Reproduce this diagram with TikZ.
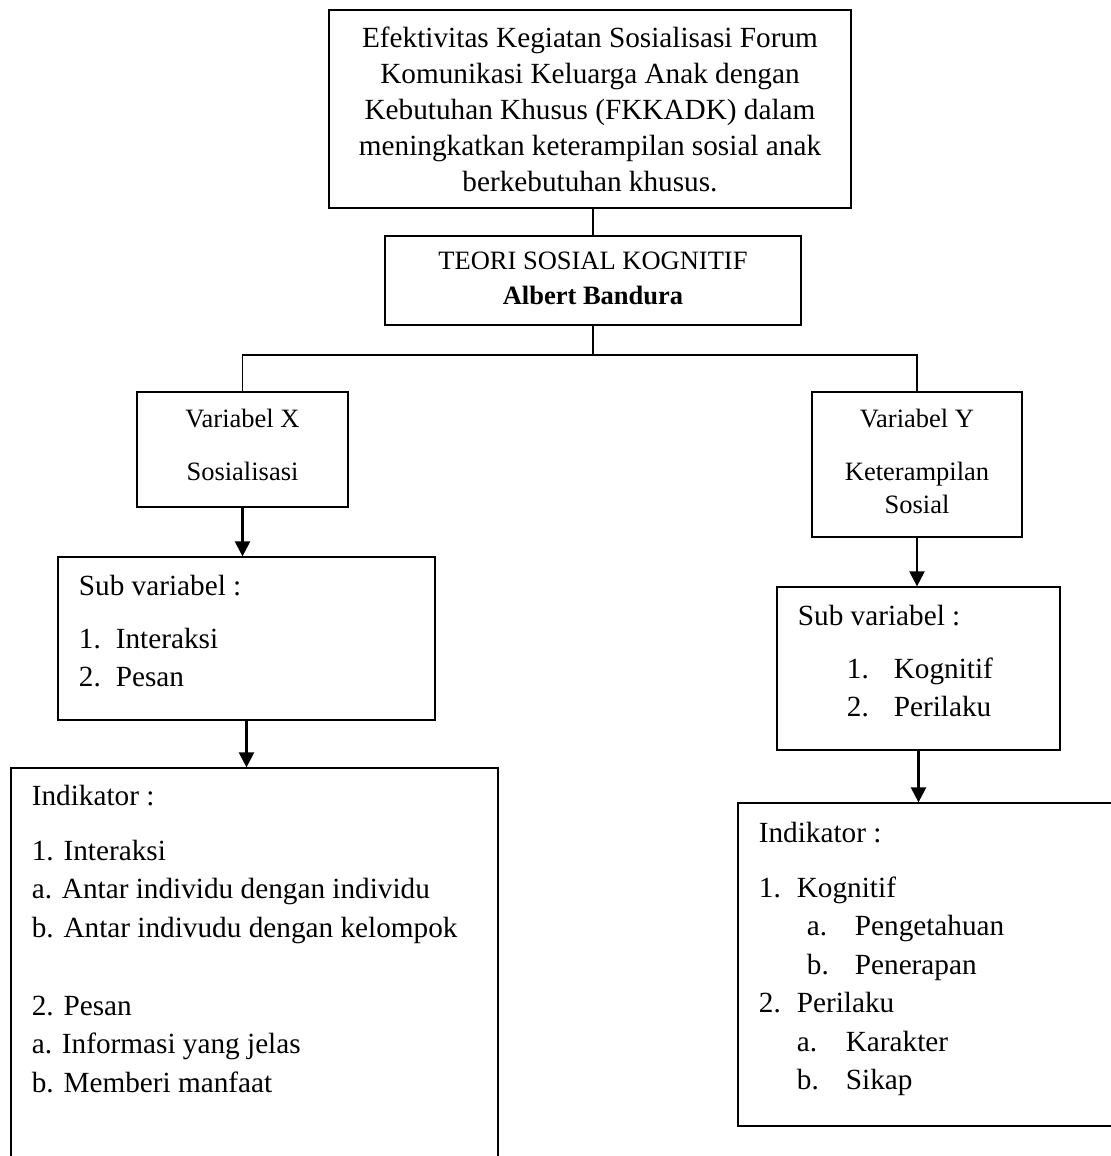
\documentclass[tikz,border=0pt]{standalone}
\usepackage{fontspec}
\setmainfont{Liberation Serif}
\usetikzlibrary{arrows.meta,positioning,fit}
\tikzset{box/.style={draw,line width=.5pt,inner sep=0pt},body/.style={font=\fontsize{11.7}{15.4}\selectfont,align=left,inner sep=0pt},small/.style={font=\fontsize{10.6}{13.2}\selectfont,align=center,inner sep=0pt},flow/.style={-{Triangle[length=6pt,width=6pt]},line width=.9pt},link/.style={line width=.5pt}}

\begin{document}
\begin{tikzpicture}[x=.4pt,y=-.4pt]
  \useasboundingbox (0,0) rectangle (1111,1156);
  \clip (0,0) rectangle (1111,1156);
  % judul dan teori
  \node[box,fit={(329,10) (851,208)}] (judul) {};
  \node[below=6.8pt of judul.north,align=center,inner sep=0pt,font=\fontsize{11.7}{14.4}\selectfont] (judul-isi) {Efektivitas Kegiatan Sosialisasi Forum\\Komunikasi Keluarga Anak dengan\\Kebutuhan Khusus (FKKADK) dalam\\meningkatkan keterampilan sosial anak\\berkebutuhan khusus.};
  \node[box,fit={(385,236) (801,325)}] (teori) {};
  \node[small,font=\fontsize{10.6}{14}\selectfont,below=6.6pt of teori.north] (teori-isi) {TEORI SOSIAL KOGNITIF\\\textbf{Albert Bandura}};
  \coordinate (cabang) at (592,355);
  % variabel
  \node[box,fit={(137,392) (348,507)}] (varx) {};
  \node[small,below=6.8pt of varx.north] (varx-isi) {Variabel X\\[8pt]Sosialisasi};
  \node[box,fit={(812,392) (1022,537)}] (vary) {};
  \node[small,below=6.8pt of vary.north] (vary-isi) {Variabel Y\\[8pt]Keterampilan\\Sosial};
  % sub variabel
  \node[box,fit={(58,557) (435,720)}] (subx) {};
  \node[body,below right=7.2pt and 8.4pt of subx.north west] (subx-isi) {Sub variabel :\\[5.8pt]\makebox[14.8pt][l]{1.}Interaksi\\\makebox[14.8pt][l]{2.}Pesan};
  \node[box,fit={(777,587) (1060,750)}] (suby) {};
  \node[body,below right=7.2pt and 8.4pt of suby.north west] (suby-isi) {Sub variabel :\\[5.8pt]\hspace*{19.6pt}\makebox[18.8pt][l]{1.}Kognitif\\\hspace*{19.6pt}\makebox[18.8pt][l]{2.}Perilaku};
  % indikator
  \node[box,fit={(11,768) (498,1180)}] (indx) {};
  \node[body,below right=6.8pt and 8.4pt of indx.north west] (indx-isi) {Indikator :\\[6.6pt]1. Interaksi\\a. Antar individu dengan individu\\b. Antar indivudu dengan kelompok\\[15.8pt]2. Pesan\\a. Informasi yang jelas\\b. Memberi manfaat};
  \node[box,fit={(738,803) (1130,1126)}] (indy) {};
  \node[body,below right=7.6pt and 8.4pt of indy.north west] (indy-isi) {Indikator :\\[6.6pt]\makebox[15.2pt][l]{1.}Kognitif\\\hspace*{19.2pt}\makebox[19.2pt][l]{a.}Pengetahuan\\\hspace*{19.2pt}\makebox[19.2pt][l]{b.}Penerapan\\\makebox[15.2pt][l]{2.}Perilaku\\\hspace*{15.2pt}\makebox[19.6pt][l]{a.}Karakter\\\hspace*{15.2pt}\makebox[19.6pt][l]{b.}Sikap};
  % garis
  \draw[link] (teori.north) -- (teori.north |- judul.south);
  \draw[link] (teori.south) -- (teori.south |- cabang);
  \draw[link] (varx.north) |- (teori.south |- cabang) -| (vary.north);
  \draw[flow] (varx.south) -- (varx.south |- subx.north);
  \draw[flow] (subx.south) -- (subx.south |- indx.north);
  \draw[flow] (vary.south) -- (vary.south |- suby.north);
  \draw[flow] (suby.south) -- (suby.south |- indy.north);
\end{tikzpicture}
\end{document}
